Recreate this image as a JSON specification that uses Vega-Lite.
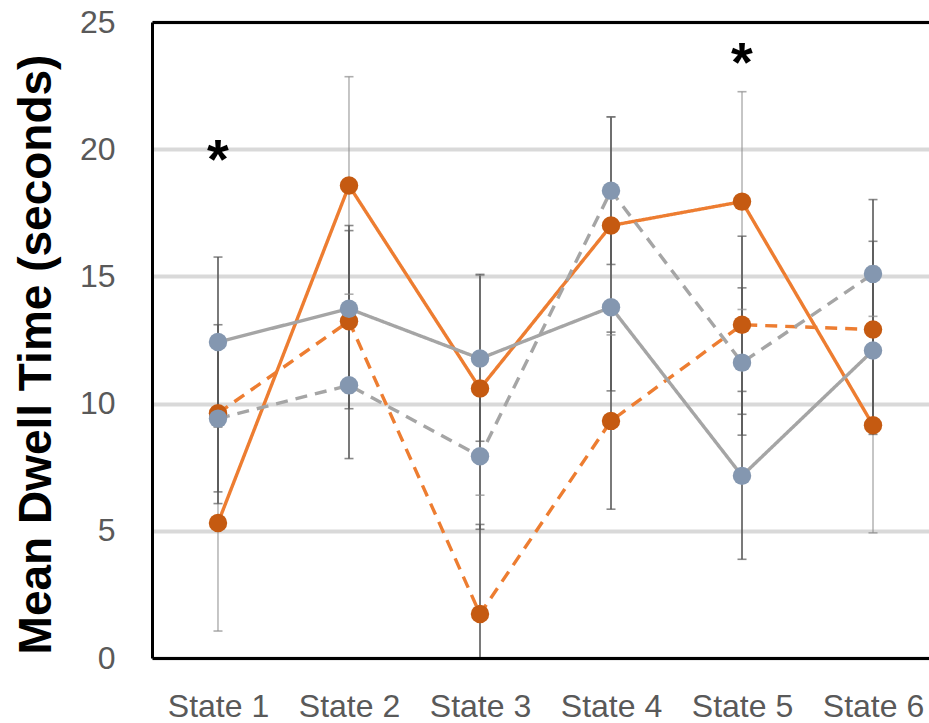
{
  "$schema": "https://vega.github.io/schema/vega-lite/v6.json",
  "width": 777,
  "height": 636,
  "autosize": {"type": "none"},
  "padding": {"left": 152, "top": 22, "right": 0, "bottom": 65},
  "background": "white",
  "config": {"view": {"stroke": null}, "font": "Liberation Sans"},
  "datasets": {
    "stats": [
      {"state": "State 1", "series": "Series 1", "mean": 5.31, "lo": 1.06, "hi": 9.56},
      {"state": "State 2", "series": "Series 1", "mean": 18.57, "lo": 14.3, "hi": 22.85},
      {"state": "State 3", "series": "Series 1", "mean": 10.59, "lo": 6.4, "hi": 15.04},
      {"state": "State 4", "series": "Series 1", "mean": 17.0, "lo": 12.7, "hi": 21.27},
      {"state": "State 5", "series": "Series 1", "mean": 17.94, "lo": 13.7, "hi": 22.26},
      {"state": "State 6", "series": "Series 1", "mean": 9.15, "lo": 4.92, "hi": 13.43},
      {"state": "State 1", "series": "Series 2", "mean": 9.62, "lo": 6.07, "hi": 13.1},
      {"state": "State 2", "series": "Series 2", "mean": 13.24, "lo": 9.8, "hi": 16.8},
      {"state": "State 3", "series": "Series 2", "mean": 1.73, "lo": -1.8, "hi": 5.25},
      {"state": "State 4", "series": "Series 2", "mean": 9.32, "lo": 5.85, "hi": 12.81},
      {"state": "State 5", "series": "Series 2", "mean": 13.1, "lo": 9.58, "hi": 16.58},
      {"state": "State 6", "series": "Series 2", "mean": 12.91, "lo": 9.41, "hi": 16.38},
      {"state": "State 1", "series": "Series 3", "mean": 12.42, "lo": 9.08, "hi": 15.76},
      {"state": "State 2", "series": "Series 3", "mean": 13.73, "lo": 10.43, "hi": 17.0},
      {"state": "State 3", "series": "Series 3", "mean": 11.77, "lo": 8.52, "hi": 15.08},
      {"state": "State 4", "series": "Series 3", "mean": 13.79, "lo": 10.5, "hi": 17.09},
      {"state": "State 5", "series": "Series 3", "mean": 7.16, "lo": 3.88, "hi": 10.48},
      {"state": "State 6", "series": "Series 3", "mean": 12.09, "lo": 8.79, "hi": 15.39},
      {"state": "State 1", "series": "Series 4", "mean": 9.41, "lo": 6.53, "hi": 12.3},
      {"state": "State 2", "series": "Series 4", "mean": 10.72, "lo": 7.84, "hi": 13.6},
      {"state": "State 3", "series": "Series 4", "mean": 7.93, "lo": 5.06, "hi": 10.83},
      {"state": "State 4", "series": "Series 4", "mean": 18.37, "lo": 15.47, "hi": 21.27},
      {"state": "State 5", "series": "Series 4", "mean": 11.61, "lo": 8.76, "hi": 14.55},
      {"state": "State 6", "series": "Series 4", "mean": 15.1, "lo": 12.2, "hi": 18.02}
    ],
    "stars": [
      {"state": "State 1", "label": "*", "pos": 18.87},
      {"state": "State 5", "label": "*", "pos": 22.68}
    ]
  },
  "data": {"name": "stats"},
  "layer": [
    {
      "mark": {"type": "rule", "clip": true},
      "encoding": {
        "x": {
          "field": "state", "type": "nominal",
          "scale": {"type": "point", "domain": ["State 1", "State 2", "State 3", "State 4", "State 5", "State 6"], "padding": 0.4656, "align": 0.541},
          "axis": {"orient": "bottom", "title": null, "domainColor": "black", "domainWidth": 3, "ticks": false, "grid": false, "labelAngle": 0, "labelFontSize": 32, "labelColor": "#595959", "labelPadding": 58, "labelBaseline": "alphabetic", "labelFont": "Liberation Sans", "zindex": 1}
        },
        "y": {
          "field": "lo", "type": "quantitative",
          "scale": {"domain": [0, 25], "nice": false, "zero": false},
          "axis": {"title": "Mean Dwell Time (seconds)", "orient": "left", "values": [0, 5, 10, 15, 20, 25], "grid": true, "gridColor": "#D9D9D9", "gridWidth": 4, "domainColor": "black", "domainWidth": 3, "ticks": false, "labelFontSize": 32, "labelColor": "#595959", "labelPadding": 37, "labelFont": "Liberation Sans", "titleFont": "Liberation Sans", "titleFontSize": 46, "titleFontWeight": "bold", "titleColor": "black", "titleAngle": -90, "titleX": -102, "titleY": 332, "titleAlign": "center", "titleBaseline": "alphabetic"}
        },
        "y2": {"field": "hi"},
        "color": {"condition": {"test": "datum.series === 'Series 1'", "value": "#8c8c8c"}, "value": "#595959"},
        "strokeWidth": {"condition": {"test": "datum.series === 'Series 1'", "value": 1}, "value": 1.6}
      }
    },
    {
      "mark": {"type": "tick", "clip": true, "size": 9, "thickness": 1.6},
      "encoding": {
        "x": {"field": "state", "type": "nominal", "axis": null},
        "y": {"field": "lo", "type": "quantitative", "axis": null},
        "color": {"condition": {"test": "datum.series === 'Series 1'", "value": "#8c8c8c"}, "value": "#595959"}
      }
    },
    {
      "mark": {"type": "tick", "clip": true, "size": 9, "thickness": 1.6},
      "encoding": {
        "x": {"field": "state", "type": "nominal", "axis": null},
        "y": {"field": "hi", "type": "quantitative", "axis": null},
        "color": {"condition": {"test": "datum.series === 'Series 1'", "value": "#8c8c8c"}, "value": "#595959"}
      }
    },
    {
      "mark": {"type": "line", "strokeWidth": 3.4},
      "encoding": {
        "x": {"field": "state", "type": "nominal", "axis": null},
        "y": {"field": "mean", "type": "quantitative", "axis": null},
        "stroke": {"field": "series", "type": "nominal", "legend": null, "scale": {"domain": ["Series 1", "Series 2", "Series 3", "Series 4"], "range": ["#ED7D31", "#ED7D31", "#A5A5A5", "#A5A5A5"]}},
        "strokeDash": {"field": "series", "type": "nominal", "legend": null, "scale": {"domain": ["Series 1", "Series 2", "Series 3", "Series 4"], "range": [[1, 0], [12, 8], [1, 0], [12, 8]]}}
      }
    },
    {
      "mark": {"type": "circle", "size": 340, "opacity": 1},
      "encoding": {
        "x": {"field": "state", "type": "nominal", "axis": null},
        "y": {"field": "mean", "type": "quantitative", "axis": null},
        "fill": {"field": "series", "type": "nominal", "legend": null, "scale": {"domain": ["Series 1", "Series 2", "Series 3", "Series 4"], "range": ["#C55A11", "#C55A11", "#8497B0", "#8497B0"]}}
      }
    },
    {
      "data": {"name": "stars"},
      "mark": {"type": "text", "fontSize": 56, "fontWeight": "bold", "color": "black", "baseline": "alphabetic", "font": "Liberation Sans"},
      "encoding": {
        "x": {"field": "state", "type": "nominal", "axis": {"orient": "top", "title": null, "labels": false, "ticks": false, "grid": false, "domainColor": "black", "domainWidth": 3, "zindex": 1}},
        "y": {"field": "pos", "type": "quantitative", "axis": null},
        "text": {"field": "label"}
      }
    }
  ],
  "resolve": {"axis": {"x": "independent", "y": "independent"}}
}
